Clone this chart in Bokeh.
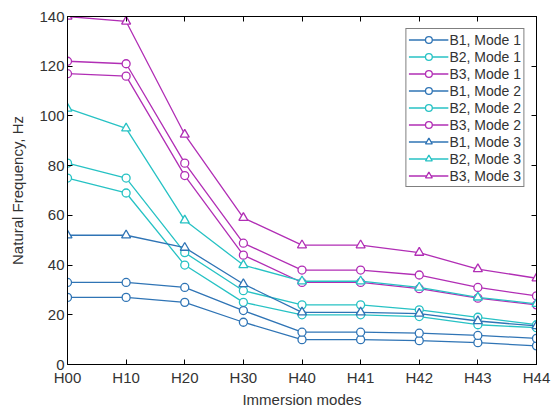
from bokeh.plotting import figure
from bokeh.models import Range1d, FixedTicker, LinearAxis, Legend, LegendItem
from bokeh.embed import file_html
from bokeh.resources import INLINE

cats = ["H00", "H10", "H20", "H30", "H40", "H41", "H42", "H43", "H44"]

b1_mode1 = [27, 27, 25, 17, 10, 10, 9.6, 8.8, 7.5]
b2_mode1 = [75, 69, 40, 25, 20, 20, 19.3, 16, 14.8]
b3_mode1 = [117, 116, 76, 44, 33, 33, 30.5, 26.7, 24]
b1_mode2 = [33, 33, 31, 21.7, 13, 13, 12.6, 11.7, 10.5]
b2_mode2 = [81, 75, 45, 29.7, 24, 24, 22, 19, 16]
b3_mode2 = [122, 121, 81, 48.8, 38, 38, 36, 31, 27.6]
b1_mode3 = [52, 52, 47, 32.4, 21, 21, 20.5, 17.5, 15.5]
b2_mode3 = [103, 95, 58, 40, 33.5, 33.5, 31, 27, 24.4]
b3_mode3 = [140, 138, 92.5, 59, 48, 48, 45, 38.4, 34.7]

yticks = [0, 20, 40, 60, 80, 100, 120, 140]

series = [
    ("B1, Mode 1", b1_mode1, "#2f74b5", "circle"),
    ("B2, Mode 1", b2_mode1, "#27c2c4", "circle"),
    ("B3, Mode 1", b3_mode1, "#b12eb5", "circle"),
    ("B1, Mode 2", b1_mode2, "#2f74b5", "circle"),
    ("B2, Mode 2", b2_mode2, "#27c2c4", "circle"),
    ("B3, Mode 2", b3_mode2, "#b12eb5", "circle"),
    ("B1, Mode 3", b1_mode3, "#2f74b5", "triangle"),
    ("B2, Mode 3", b2_mode3, "#27c2c4", "triangle"),
    ("B3, Mode 3", b3_mode3, "#b12eb5", "triangle"),
]

xs = list(range(len(cats)))

p = figure(width=552, height=410, output_backend="svg", toolbar_location=None,
           x_range=Range1d(0, len(cats) - 1), y_range=Range1d(0, 140),
           min_border_left=67, min_border_right=16, min_border_top=16, min_border_bottom=44)
p.xgrid.visible = False
p.ygrid.visible = False
p.outline_line_color = "black"
p.outline_line_width = 1
p.background_fill_color = "white"
p.border_fill_color = "white"

FONT = "Liberation Sans"

items = []
for label, vals, color, marker in series:
    r1 = p.line(xs, vals, line_color=color, line_width=1.3)
    r2 = p.scatter(xs, vals, marker=marker, size=8 if marker == "circle" else 9,
                   line_color=color, fill_color="white", line_width=1.3)
    items.append(LegendItem(label=label, renderers=[r1, r2]))

legend = Legend(items=items, location="top_right")
legend.border_line_color = "black"
legend.border_line_width = 1
legend.label_text_font = FONT
legend.label_text_font_size = "14px"
legend.label_text_color = "#333333"
legend.glyph_width = 40
legend.glyph_height = 17
legend.label_height = 17
legend.label_standoff = 1
legend.spacing = 0
legend.padding = 2
legend.margin = 12
legend.background_fill_alpha = 1
p.add_layout(legend, "center")

xa = p.xaxis[0]
xa.ticker = FixedTicker(ticks=xs)
xa.major_label_overrides = {i: c for i, c in enumerate(cats)}
xa.axis_label = "Immersion modes"
ya = p.yaxis[0]
ya.ticker = FixedTicker(ticks=yticks)
ya.axis_label = "Natural Frequency, Hz"

for ax in (xa, ya):
    ax.major_tick_in = 5
    ax.major_tick_out = 0
    ax.minor_tick_line_color = None
    ax.axis_line_color = "black"
    ax.major_tick_line_color = "black"
    ax.major_label_text_font = FONT
    ax.major_label_text_font_size = "15px"
    ax.major_label_text_color = "#333333"
    ax.axis_label_text_font = FONT
    ax.axis_label_text_font_size = "15px"
    ax.axis_label_text_font_style = "normal"
    ax.axis_label_text_color = "#333333"
xa.major_label_standoff = 4
xa.axis_label_standoff = 2
ya.major_label_standoff = 3
ya.axis_label_standoff = 10

top = LinearAxis(ticker=FixedTicker(ticks=xs), major_label_text_font_size="0px",
                 major_tick_in=5, major_tick_out=0, minor_tick_line_color=None,
                 major_label_text_color=None)
right = LinearAxis(ticker=FixedTicker(ticks=yticks), major_label_text_font_size="0px",
                   major_tick_in=5, major_tick_out=0, minor_tick_line_color=None,
                   major_label_text_color=None)
p.add_layout(top, "above")
p.add_layout(right, "right")

open("out.html", "w").write(file_html(p, INLINE))
